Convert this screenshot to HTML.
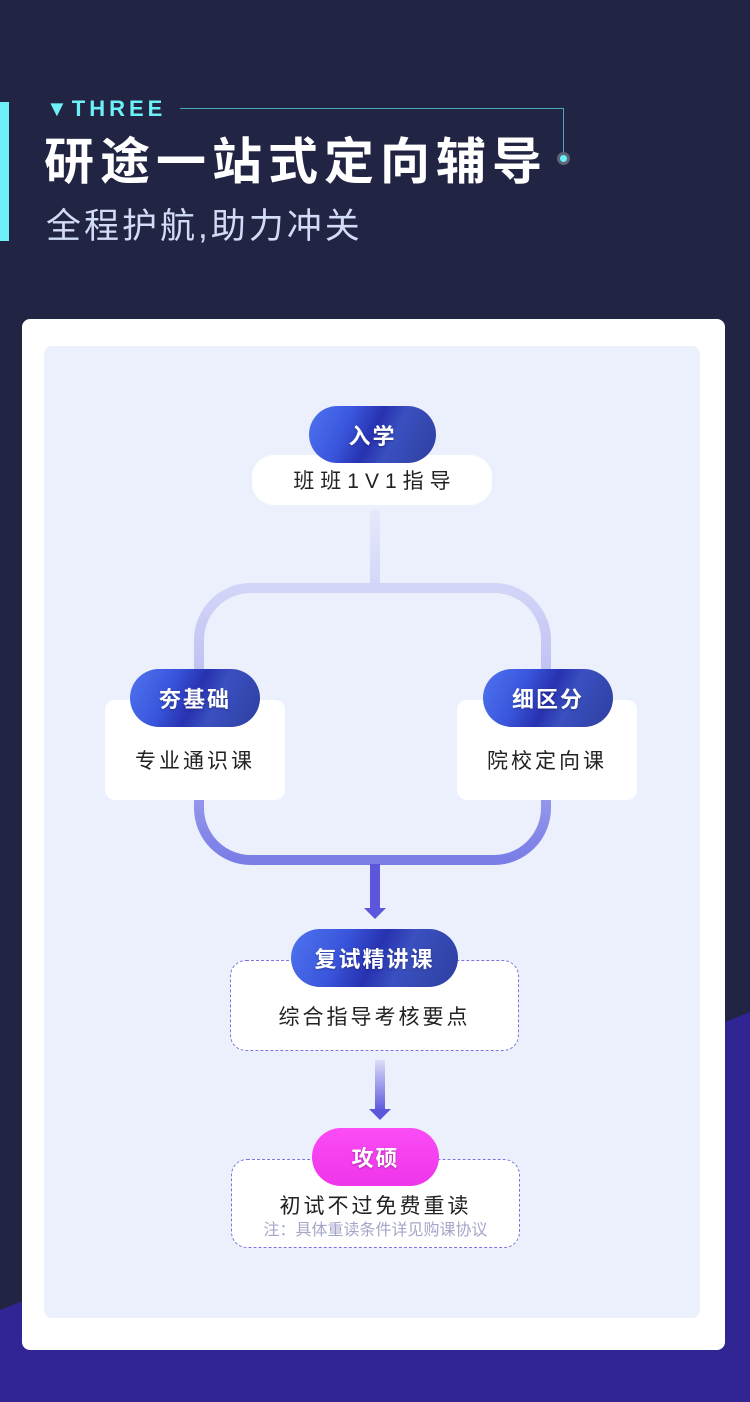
<!DOCTYPE html>
<html><head><meta charset="utf-8"><style>
*{margin:0;padding:0;box-sizing:border-box}
body{width:750px;height:1402px;position:relative;overflow:hidden;background:#212443;font-family:"Liberation Sans","Noto Sans CJK SC",sans-serif}
.a{position:absolute}
.pill{position:absolute;border-radius:30px;color:#fff;font-size:22px;font-weight:bold;display:flex;align-items:center;justify-content:center;letter-spacing:2px;background:linear-gradient(115deg,#4f74f0 0%,#3a56dc 30%,#2732b0 50%,#3a50c0 65%,#2e3fa0 100%);text-shadow:0 1px 2px rgba(0,0,0,.3)}
.box{position:absolute;background:#fff;border-radius:12px;display:flex;align-items:center;justify-content:center;color:#222;font-size:21px;letter-spacing:3px}
.dash{border:1px dashed #7a74e0}
</style></head><body>
<svg class="a" style="left:0;top:0" width="750" height="1402"><polygon points="0,1310 750,1012 750,1402 0,1402" fill="#302593"/></svg>
<div class="a" style="left:0;top:102px;width:9px;height:139px;background:#6df0f7"></div>
<div class="a" style="left:46px;top:96px;color:#6df0f7;font-size:22px;font-weight:bold;letter-spacing:4px">▼THREE</div>
<div class="a" style="left:180px;top:108px;width:384px;height:1px;background:#4aa6b8"></div>
<div class="a" style="left:563px;top:108px;width:1px;height:46px;background:#4aa6b8"></div>
<div class="a" style="left:557px;top:152px;width:13px;height:13px;border-radius:50%;background:#6df0f7;border:3px solid #5c6478"></div>
<div class="a" style="left:44px;top:122px;color:#fff;font-size:50px;font-weight:bold;letter-spacing:6px;white-space:nowrap">研途一站式定向辅导</div>
<div class="a" style="left:46px;top:198px;color:#d2dcf6;font-size:35px;letter-spacing:3px;white-space:nowrap">全程护航,助力冲关</div>
<div class="a" style="left:22px;top:319px;width:703px;height:1031px;background:#fff;border-radius:8px"></div>
<div class="a" style="left:44px;top:346px;width:656px;height:972px;background:#ecf0fc;border-radius:8px"></div>
<svg class="a" style="left:0;top:0" width="750" height="1402">
<defs>
<linearGradient id="v1" x1="0" y1="0" x2="0" y2="1"><stop offset="0" stop-color="#e6e9fb"/><stop offset="1" stop-color="#d2d5f7"/></linearGradient>
<linearGradient id="lp" x1="0" y1="0" x2="0" y2="1"><stop offset="0" stop-color="#d2d4f7"/><stop offset=".5" stop-color="#b5b6f0"/><stop offset="1" stop-color="#7a7de6"/></linearGradient>
<linearGradient id="v2" x1="0" y1="0" x2="0" y2="1"><stop offset="0" stop-color="#dcdcf8"/><stop offset="1" stop-color="#5a55dc"/></linearGradient>
</defs>
<rect x="370" y="510" width="10" height="80" fill="url(#v1)"/>
<rect x="199" y="588" width="347" height="272" rx="52" fill="none" stroke="url(#lp)" stroke-width="10"/>
<rect x="370" y="864" width="10" height="46" fill="#5b56dc"/>
<polygon points="364,908 386,908 375,919" fill="#5b56dc"/>
<rect x="375" y="1060" width="10" height="52" fill="url(#v2)"/>
<polygon points="369,1109 391,1109 380,1120" fill="#5b56dc"/>
</svg>
<div class="box" style="left:252px;top:455px;width:240px;height:50px;border-radius:22px;letter-spacing:6px;padding-left:6px">班班1V1指导</div>
<div class="pill" style="left:309px;top:406px;width:127px;height:57px">入学</div>
<div class="box" style="left:105px;top:700px;width:180px;height:100px;padding-top:20px;border-radius:10px">专业通识课</div>
<div class="pill" style="left:130px;top:669px;width:130px;height:58px">夯基础</div>
<div class="box" style="left:457px;top:700px;width:180px;height:100px;padding-top:20px;border-radius:10px">院校定向课</div>
<div class="pill" style="left:483px;top:669px;width:130px;height:58px">细区分</div>
<div class="box dash" style="left:230px;top:960px;width:289px;height:91px;padding-top:20px;border-radius:16px">综合指导考核要点</div>
<div class="pill" style="left:291px;top:929px;width:167px;height:58px">复试精讲课</div>
<div class="box dash" style="left:231px;top:1159px;width:289px;height:89px;border-radius:16px;display:block;text-align:center">
<div style="padding-top:33px;font-size:21px;line-height:28px">初试不过免费重读</div>
<div style="font-size:16px;color:#a3a6c8;letter-spacing:0;line-height:20px">注：具体重读条件详见购课协议</div></div>
<div class="pill" style="left:312px;top:1128px;width:127px;height:58px;background:linear-gradient(180deg,#fb4cf5,#ef35ea)">攻硕</div>
</body></html>
